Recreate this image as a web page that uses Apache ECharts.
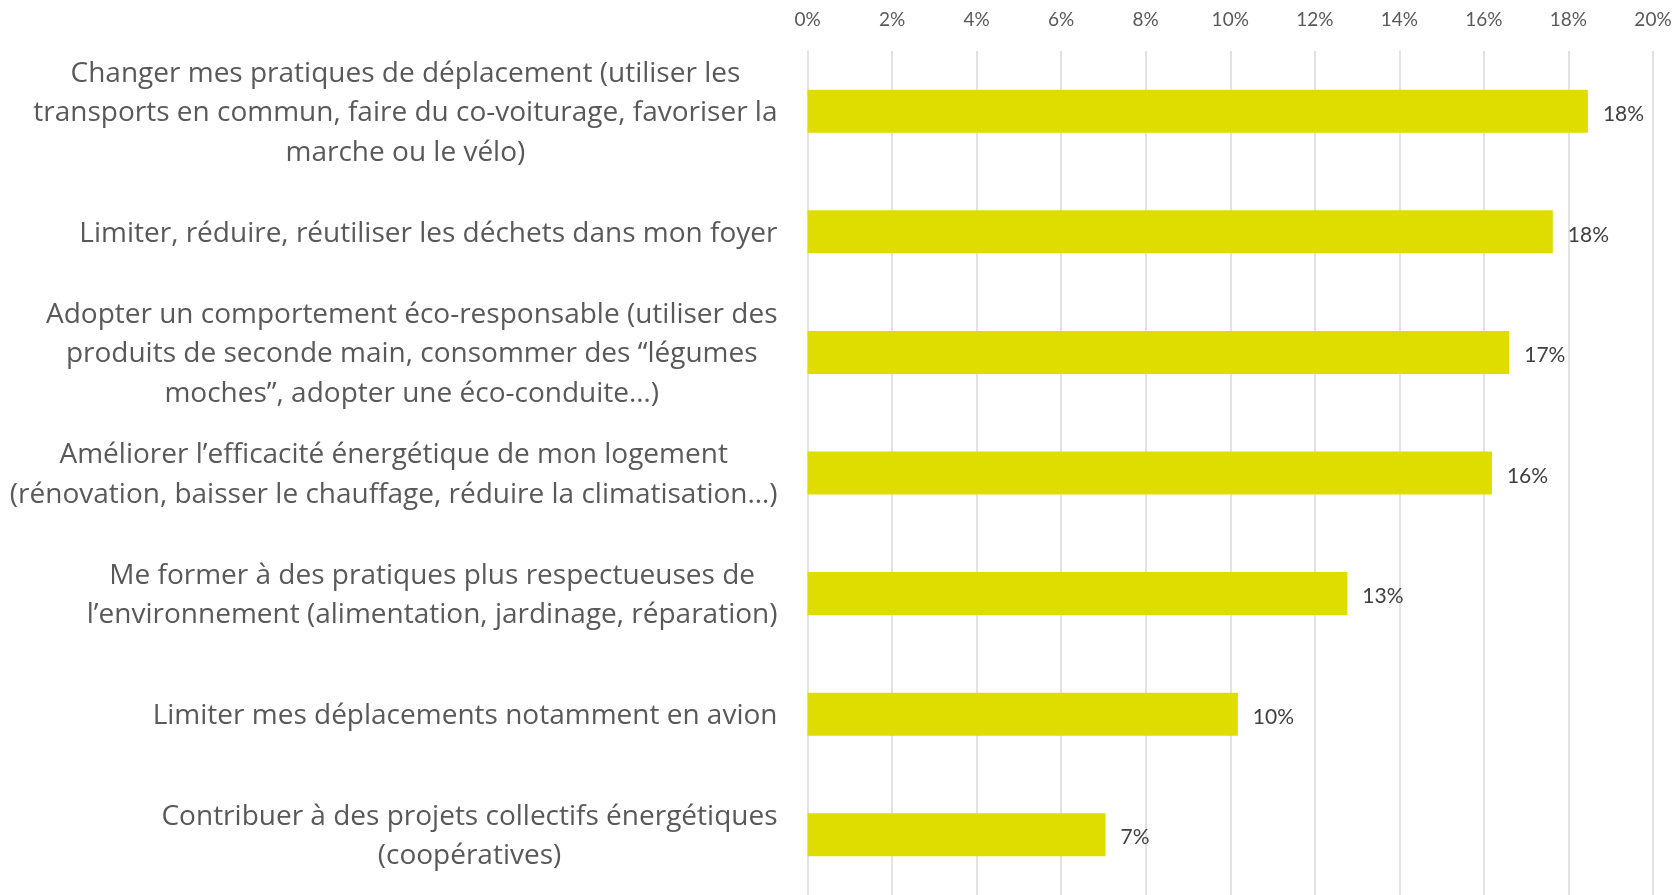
<!DOCTYPE html>
<html>
<head>
<meta charset="utf-8">
<script src="https://cdn.jsdelivr.net/npm/echarts@6/dist/echarts.min.js"></script>
<style>
    html, body { margin: 0; padding: 0; background: #fff; }
    #chart { width: 1678px; height: 895px; }
</style>
</head>
<body>
<div id="chart"></div>
<script>
// catégories (de haut en bas)
var categories = [
    "Changer mes pratiques de déplacement (utiliser les\ntransports en commun, faire du co-voiturage, favoriser la\nmarche ou le vélo)",
    "Limiter, réduire, réutiliser les déchets dans mon foyer",
    "Adopter un comportement éco-responsable (utiliser des\nproduits de seconde main, consommer des “légumes\nmoches”, adopter une éco-conduite…)",
    "Améliorer l’efficacité énergétique de mon logement\n(rénovation, baisser le chauffage, réduire la climatisation…)",
    "Me former à des pratiques plus respectueuses de\nl’environnement (alimentation, jardinage, réparation)",
    "Limiter mes déplacements notamment en avion",
    "Contribuer à des projets collectifs énergétiques\n(coopératives)"
];
// valeurs en %
var values = [18.46, 17.63, 16.6, 16.19, 12.77, 10.18, 7.05];

var xMin = 0;
var xMax = 20;
var xStep = 2;

var myChart = echarts.init(document.getElementById('chart'));

var option = {
    animation: false,
    textStyle: {
        fontFamily: 'Lato'
    },
    grid: {
        left: 807.5,
        right: 25,
        top: 51,
        bottom: -3,
        containLabel: false
    },
    xAxis: {
        type: 'value',
        position: 'top',
        min: xMin,
        max: xMax,
        interval: xStep,
        axisLine: { show: false },
        axisTick: { show: false },
        axisLabel: {
            margin: 22,
            color: '#595959',
            fontSize: 19,
            formatter: function (v) {
                return v + '%';
            }
        },
        splitLine: {
            show: true,
            lineStyle: { color: '#d9d9d9', width: 1.5 }
        }
    },
    yAxis: {
        type: 'category',
        inverse: true,
        data: categories,
        axisLine: { show: false },
        axisTick: { show: false },
        axisLabel: {
            margin: 30,
            color: '#595959',
            align: 'right',
            padding: [4, 0, 0, 0],
            formatter: function (v) {
                // lignes centrées dans le bloc
                return v.split('\n').map(function (s) {
                    return '{c|' + s + '}';
                }).join('\n');
            },
            rich: {
                c: {
                    align: 'center',
                    color: '#595959',
                    fontSize: 28,
                    lineHeight: 39.5,
                    fontFamily: 'Open Sans'
                }
            }
        }
    },
    series: [{
        type: 'bar',
        data: values,
        barWidth: 43,
        itemStyle: { color: '#dfdd00' },
        label: {
            show: true,
            position: 'right',
            distance: 15,
            offset: [0, 3],
            color: '#404040',
            fontSize: 21,
            formatter: function (p) {
                return Math.round(p.value) + '%';
            }
        }
    }]
};
myChart.setOption(option);
</script>
</body>
</html>
